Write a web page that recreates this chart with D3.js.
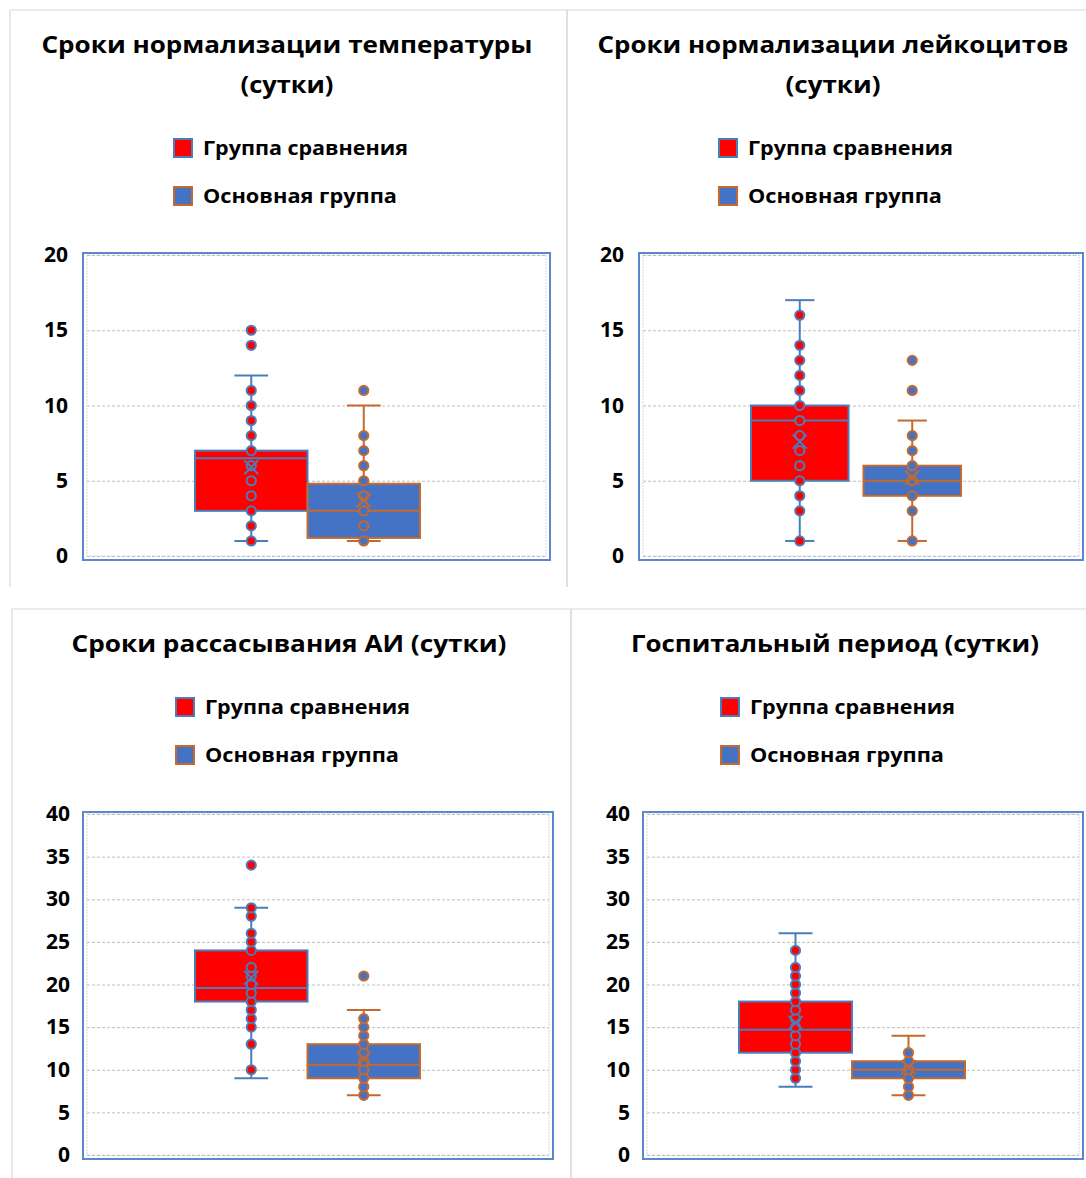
<!DOCTYPE html>
<html><head><meta charset="utf-8">
<script src="https://cdn.jsdelivr.net/npm/d3@7"></script>
<style>
html,body{margin:0;padding:0;background:#fff;}
svg{display:block;font-family:"Open Sans","Noto Sans",sans-serif;}
</style></head>
<body>
<svg id="chart" width="1086" height="1178"></svg>
<script>
// ---------- DATA ----------
const groups = ["Группа сравнения", "Основная группа"];

const titles = [
  ["Сроки нормализации температуры", "(сутки)"],
  ["Сроки нормализации лейкоцитов", "(сутки)"],
  ["Сроки рассасывания АИ (сутки)"],
  ["Госпитальный период (сутки)"]
];

const ticksSmall = [0, 5, 10, 15, 20];
const ticksLarge = [0, 5, 10, 15, 20, 25, 30, 35, 40];

// box: [lower whisker, Q1, median, Q3, upper whisker]
const tempBox = [[1, 3, 6.5, 7, 12], [1, 1.2, 3, 4.8, 10]];
const tempMean = [5.9, 3.7];
const tempPoints = [[1, 2, 3, 4, 5, 6, 7, 8, 9, 10, 11, 14, 15], [1, 2, 3, 4, 5, 6, 7, 8, 11]];

const leukoBox = [[1, 5, 9, 10, 17], [1, 4, 5, 6, 9]];
const leukoMean = [7.6, 5.2];
const leukoPoints = [[1, 3, 4, 5, 6, 7, 8, 9, 10, 11, 12, 13, 14, 16], [1, 3, 4, 5, 6, 7, 8, 11, 13]];

const aiBox = [[9, 18, 19.6, 24, 29], [7, 9, 10.6, 13, 17]];
const aiMean = [20.8, 11.3];
const aiPoints = [[10, 13, 15, 16, 17, 18, 19, 20, 21, 22, 24, 25, 26, 28, 29, 34], [7, 8, 9, 10, 11, 12, 13, 14, 15, 16, 21]];

const hospBox = [[8, 12, 14.7, 18, 26], [7, 9, 10, 11, 14]];
const hospMean = [15.5, 10.3];
const hospPoints = [[9, 10, 11, 12, 13, 14, 15, 16, 17, 18, 19, 20, 21, 22, 24], [7, 8, 9, 10, 11, 12]];

// ---------- STYLE / LAYOUT ----------
const fills = ["#FF0000", "#4472C4"];
const strokes = ["#4A7EBB", "#C46A2E"];

const panels = [
  {title: titles[0], box: tempBox, mean: tempMean, points: tempPoints, ticks: ticksSmall,
   frame: [10, 10, 567, 587], px: [83, 550], py: [556, 255], band: [195, 420], pad: 0,
   titleX: 287, titleY: [53, 93], legX: 173, legY: [138, 186], tickX: 68, tw: [491, 93]},
  {title: titles[1], box: leukoBox, mean: leukoMean, points: leukoPoints, ticks: ticksSmall,
   frame: [567, 10, 1090, 587], px: [639, 1083], py: [556, 255], band: [751, 961], pad: 0.133,
   titleX: 833, titleY: [53, 93], legX: 718, legY: [138, 186], tickX: 624, tw: [471, 95]},
  {title: titles[2], box: aiBox, mean: aiMean, points: aiPoints, ticks: ticksLarge,
   frame: [12, 609, 571, 1190], px: [83, 553], py: [1155, 814], band: [195, 420], pad: 0,
   titleX: 289, titleY: [652], legX: 175, legY: [697, 745], tickX: 70, tw: [435]},
  {title: titles[3], box: hospBox, mean: hospMean, points: hospPoints, ticks: ticksLarge,
   frame: [571, 609, 1090, 1190], px: [643, 1083], py: [1155, 814], band: [739, 965], pad: 0,
   titleX: 835, titleY: [652], legX: 720, legY: [697, 745], tickX: 630, tw: [408]}
];
const legendTextW = [205, 194];

const svg = d3.select("#chart");

panels.forEach(p => {
  const g = svg.append("g");
  const [fx0, fy0, fx1, fy1] = p.frame;
  g.append("path")
    .attr("d", `M${fx0},${fy1}V${fy0}H${fx1}V${fy1}`)
    .attr("fill", "none").attr("stroke", "#D9D9D9").attr("stroke-width", 1.2);

  p.title.forEach((t, i) => {
    g.append("text").attr("x", p.titleX).attr("y", p.titleY[i])
      .attr("text-anchor", "middle").attr("font-size", 24).attr("font-weight", 700)
      .attr("fill", "#000")
      .attr("textLength", p.tw[i]).attr("lengthAdjust", "spacingAndGlyphs")
      .text(t);
  });

  groups.forEach((name, i) => {
    g.append("rect").attr("x", p.legX + 1).attr("y", p.legY[i] + 1)
      .attr("width", 18).attr("height", 18)
      .attr("fill", fills[i]).attr("stroke", strokes[i]).attr("stroke-width", 2);
    g.append("text").attr("x", p.legX + 30).attr("y", p.legY[i] + 17)
      .attr("font-size", 19.5).attr("font-weight", 700).attr("fill", "#000")
      .attr("textLength", legendTextW[i]).attr("lengthAdjust", "spacingAndGlyphs")
      .text(name);
  });

  const yMax = d3.max(p.ticks);
  const y = d3.scaleLinear().domain([0, yMax]).range(p.py);
  const x = d3.scaleBand().domain(groups).range(p.band).paddingInner(p.pad).paddingOuter(0);
  const bw = x.bandwidth();
  const [x0, x1] = p.px;

  g.append("rect").attr("x", x0 + 4).attr("y", y(yMax))
    .attr("width", x1 - x0 - 8).attr("height", y(0) - y(yMax))
    .attr("fill", "none").attr("stroke", "#D9D9D9").attr("stroke-width", 1)
    .attr("stroke-dasharray", "2,1");

  const grid = g.append("g").attr("transform", `translate(${x0 + 4},0)`)
    .call(d3.axisLeft(y).tickValues(p.ticks).tickSize(-(x1 - x0 - 8)).tickFormat(""));
  grid.select(".domain").remove();
  grid.selectAll("line").attr("stroke", "#BFBFBF").attr("stroke-dasharray", "3,2");

  g.append("rect").attr("x", x0).attr("y", y(yMax) - 2)
    .attr("width", x1 - x0).attr("height", y(0) - y(yMax) + 6)
    .attr("fill", "none").attr("stroke", "#5B87CF").attr("stroke-width", 2);

  const ax = g.append("g").attr("transform", `translate(${p.tickX},0)`)
    .call(d3.axisLeft(y).tickValues(p.ticks).tickSize(0).tickPadding(0));
  ax.select(".domain").remove();
  ax.selectAll("text").attr("font-size", 21).attr("font-weight", 700)
    .attr("fill", "#000").attr("font-family", "'Open Sans',sans-serif");

  groups.forEach((name, i) => {
    const [lo, q1, med, q3, hi] = p.box[i];
    const cx = x(name) + bw / 2;
    const capW = bw * 0.3;
    const s = strokes[i];
    const bg = g.append("g");
    bg.append("line").attr("x1", cx).attr("x2", cx).attr("y1", y(hi)).attr("y2", y(lo))
      .attr("stroke", s).attr("stroke-width", 2);
    [lo, hi].forEach(v => bg.append("line")
      .attr("x1", cx - capW / 2).attr("x2", cx + capW / 2).attr("y1", y(v)).attr("y2", y(v))
      .attr("stroke", s).attr("stroke-width", 2));
    bg.append("rect").attr("x", x(name)).attr("y", y(q3))
      .attr("width", bw).attr("height", y(q1) - y(q3))
      .attr("fill", fills[i]).attr("stroke", s).attr("stroke-width", 2);
    bg.append("line").attr("x1", x(name)).attr("x2", x(name) + bw)
      .attr("y1", y(med)).attr("y2", y(med)).attr("stroke", s).attr("stroke-width", 2);
    bg.selectAll("circle.pt").data(p.points[i]).join("circle")
      .attr("class", "pt").attr("cx", cx).attr("cy", d => y(d)).attr("r", 4.6)
      .attr("fill", fills[i]).attr("stroke", s).attr("stroke-width", 2);
    const m = y(p.mean[i]), h = 7;
    bg.append("path")
      .attr("d", `M${cx - h},${m - h}L${cx + h},${m + h}M${cx - h},${m + h}L${cx + h},${m - h}`)
      .attr("stroke", s).attr("stroke-width", 2).attr("fill", "none");
  });
});
</script>
</body></html>
